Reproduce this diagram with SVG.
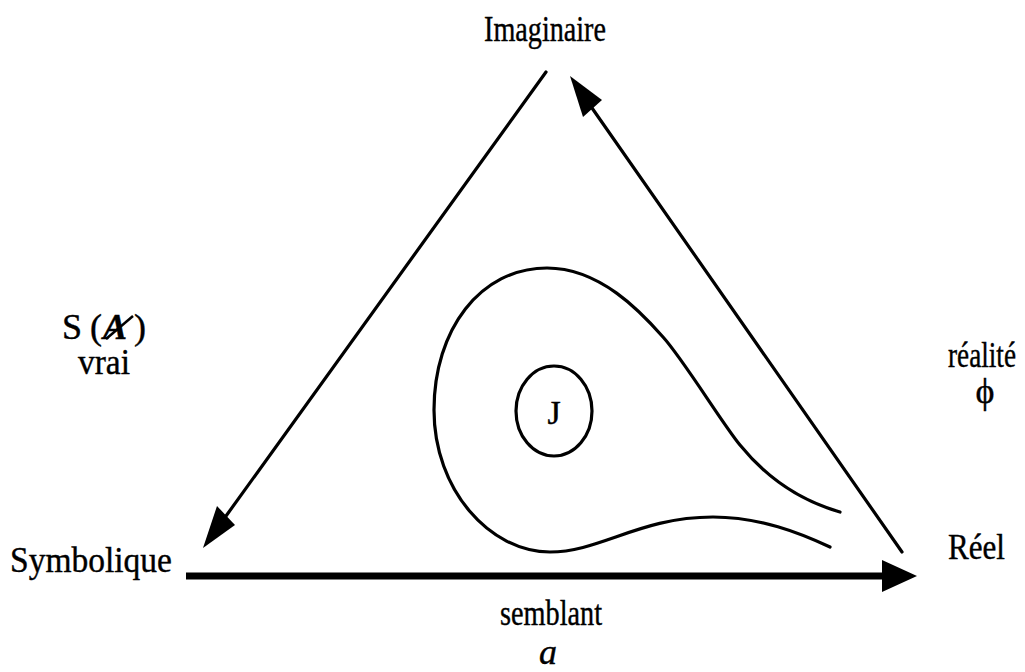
<svg xmlns="http://www.w3.org/2000/svg" width="1025" height="672" viewBox="0 0 1025 672">
<style>
.t{font-family:"Liberation Serif","Times New Roman",serif;font-size:36px;fill:#000;stroke:#000;stroke-width:0.4}
.ln{stroke:#000;stroke-width:3.2;fill:none;stroke-linecap:round}
.hd{fill:#000;stroke:none}
</style>
<rect width="1025" height="672" fill="#fff"/>
<g id="connectors">
<line class="ln" x1="546" y1="72" x2="226" y2="516"/>
<polygon class="hd" points="203,548 217,506 235,525"/>
<line class="ln" x1="902" y1="552" x2="592" y2="108"/>
<polygon class="hd" points="570,76 583,117 602,100"/>
<line x1="186" y1="576" x2="884" y2="576" stroke="#000" stroke-width="7"/>
<polygon class="hd" points="917,576 882,560 882,592"/>
</g>
<g id="loop">
<path class="ln" d="M840,512 C805,502 770,482 740,445 C722,423 683,359 663,337 C641,312 600,268 547,268 C480,268 434,330 434,410 C434,490 490,552 550,552 C600,552 640,517 713,517 C760,517 800,533 830,547"/>
</g>
<g id="node-J">
<ellipse class="ln" cx="554" cy="411" rx="38" ry="45"/>
<text class="t" x="554" y="424" text-anchor="middle" style="font-size:34px">J</text>
</g>
<g id="node-imaginaire">
<text class="t" x="545" y="41" text-anchor="middle" textLength="122" lengthAdjust="spacingAndGlyphs">Imaginaire</text>
</g>
<g id="label-left">
<text class="t" x="62" y="339">S<tspan x="90">(</tspan><tspan x="103" font-style="italic" font-weight="bold">A</tspan><tspan x="134">)</tspan></text>
<line x1="106" y1="339" x2="133" y2="316" stroke="#000" stroke-width="2.5"/>
<text class="t" x="104" y="374" text-anchor="middle" textLength="52" lengthAdjust="spacingAndGlyphs">vrai</text>
</g>
<g id="label-right">
<text class="t" x="982" y="367" text-anchor="middle" textLength="68" lengthAdjust="spacingAndGlyphs">réalité</text>
<text class="t" x="985" y="403" text-anchor="middle">ϕ</text>
</g>
<g id="node-symbolique">
<text class="t" x="10" y="572" textLength="162" lengthAdjust="spacingAndGlyphs">Symbolique</text>
</g>
<g id="node-reel">
<text class="t" x="948" y="559" textLength="57" lengthAdjust="spacingAndGlyphs">Réel</text>
</g>
<g id="label-bottom">
<text class="t" x="551" y="625" text-anchor="middle" textLength="102" lengthAdjust="spacingAndGlyphs">semblant</text>
<text class="t" x="548" y="664" text-anchor="middle" font-style="italic">a</text>
</g>
</svg>
